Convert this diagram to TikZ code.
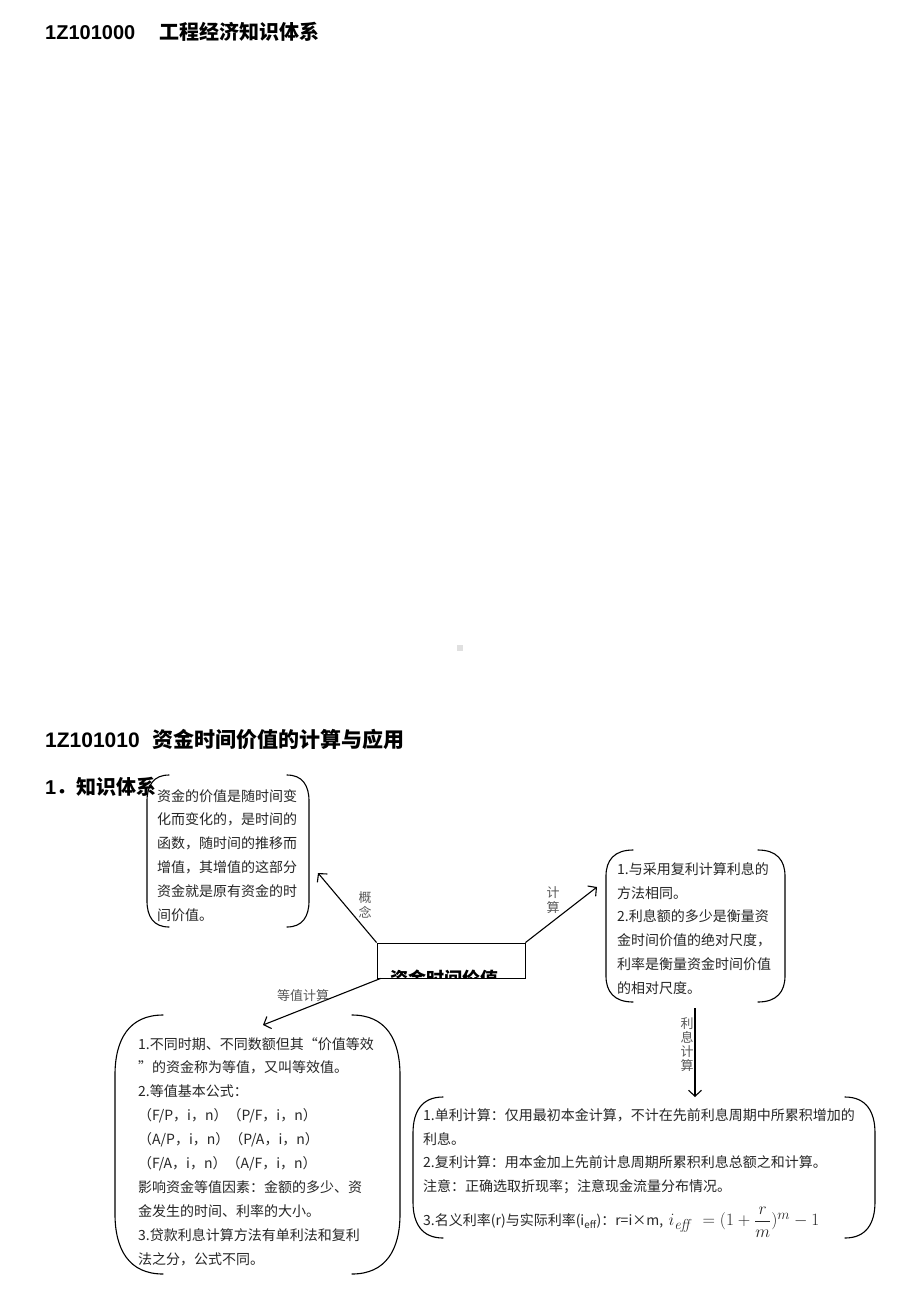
\documentclass[tikz,border=0pt]{standalone}
\usepackage[no-math]{fontspec}
\usepackage{amsmath}
\usetikzlibrary{arrows.meta}
\setmainfont{Noto Sans CJK SC}
\newfontfamily\latinsans{Liberation Sans}
\tikzset{
  heading/.style={anchor=west, inner sep=0pt, font=\bfseries\fontsize{20}{24}\selectfont},
  box text/.style={anchor=north west, inner sep=0pt, align=left, text=black!85,
    font=\fontsize{14}{23.9}\selectfont},
  bracket/.style={line width=1.1pt, line cap=round},
  core box/.style={draw, line width=0.9pt, minimum width=148pt, minimum height=35pt, inner sep=0pt},
  core text/.style={font=\bfseries\fontsize{18}{20}\selectfont, inner sep=0pt},
  link/.style={line width=1.1pt, -{Straight Barb[length=6pt,width=13pt]}},
  link label/.style={font=\fontsize{13}{15}\selectfont, text=black!65, align=center, inner sep=0pt},
}
% x1 y1 x2 y2 d r
\newcommand{\bracketbox}[6]{
  \draw[bracket] ({#1+#5},#2) .. controls ({#1+0.3*#5},#2) and (#1,{#2+0.4*#6}) .. (#1,{#2+#6})
    -- (#1,{#4-#6}) .. controls (#1,{#4-0.4*#6}) and ({#1+0.3*#5},#4) .. ({#1+#5},#4);
  \draw[bracket] ({#3-#5},#2) .. controls ({#3-0.3*#5},#2) and (#3,{#2+0.4*#6}) .. (#3,{#2+#6})
    -- (#3,{#4-#6}) .. controls (#3,{#4-0.4*#6}) and ({#3-0.3*#5},#4) .. ({#3-#5},#4);
}
\begin{document}
\begin{tikzpicture}[x=1pt, y=-1pt]
  \useasboundingbox[fill=white] (0,0) rectangle (920,1302);

  \node[heading] (title) at (45,32) {{\latinsans 1Z101000}\hspace{1.2em}工程经济知识体系};
  \fill[black!12] (457,645) rectangle (463,651);
  \node[heading, font=\bfseries\fontsize{21}{24}\selectfont] (section) at (45,739)
    {{\latinsans 1Z101010}\hspace{0.6em}资金时间价值的计算与应用};
  \node[heading] (sub) at (45,787) {{\latinsans 1}．知识体系};

  % centre
  \node[core box] (core) at (451,960.5) {};
  \begin{scope}
    \clip (core.south west) rectangle (core.north east);
    \node[core text] (coretxt) at (444,979) {资金时间价值};
  \end{scope}

  % concept
  \bracketbox{147}{775}{309}{927}{22}{26}
  \node[box text] (concept) at (157,789) {资金的价值是随时间变\\化而变化的，是时间的\\函数，随时间的推移而\\增值，其增值的这部分\\资金就是原有资金的时\\间价值。};

  % calculation
  \bracketbox{606}{850}{785}{1002}{27}{26}
  \node[box text] (calc) at (617,862) {1.与采用复利计算利息的\\方法相同。\\2.利息额的多少是衡量资\\金时间价值的绝对尺度，\\利率是衡量资金时间价值\\的相对尺度。};

  % equivalence
  \bracketbox{115}{1015}{400}{1274}{48}{60}
  \node[box text] (equiv) at (138,1037) {1.不同时期、不同数额但其“价值等效\\”的资金称为等值，又叫等效值。\\2.等值基本公式：\\（F/P，i，n）（P/F，i，n）\\（A/P，i，n）（P/A，i，n）\\（F/A，i，n）（A/F，i，n）\\影响资金等值因素：金额的多少、资\\金发生的时间、利率的大小。\\3.贷款利息计算方法有单利法和复利\\法之分，公式不同。};

  % interest
  \bracketbox{413}{1097}{875}{1238}{30}{36}
  \node[box text] (interest) at (423,1108) {1.单利计算：仅用最初本金计算，不计在先前利息周期中所累积增加的\\利息。\\2.复利计算：用本金加上先前计息周期所累积利息总额之和计算。\\注意：正确选取折现率；注意现金流量分布情况。\\[10pt]
    3.名义利率(r)与实际利率(i\textsubscript{eff})：r=i×m,\, {\fontsize{19}{20}\selectfont$i_{\mathit{eff}}\;=(1+\dfrac{r}{m})^m-1$}};

  \coordinate (tipA) at (318,873);
  \coordinate (tipB) at (597,887);
  \coordinate (tipC) at (263,1025);
  \coordinate (fromD) at (695,1008);
  \coordinate (tipD) at (695,1097);

  \draw[link] (core.north west) -- (tipA);
  \draw[link] (core.north east) -- (tipB);
  \draw[link] ([xshift=4pt]core.south west) -- (tipC);
  \draw[link] (fromD) -- (tipD);

  \node[link label] (lconcept) at (365,905) {概\\念};
  \node[link label] (lcalc) at (553,900) {计\\算};
  \node[link label] (lequiv) at (303,996) {等值计算};
  \node[link label, font=\fontsize{13}{14}\selectfont] (linterest) at (687,1045) {利\\息\\计\\算};
\end{tikzpicture}
\end{document}
